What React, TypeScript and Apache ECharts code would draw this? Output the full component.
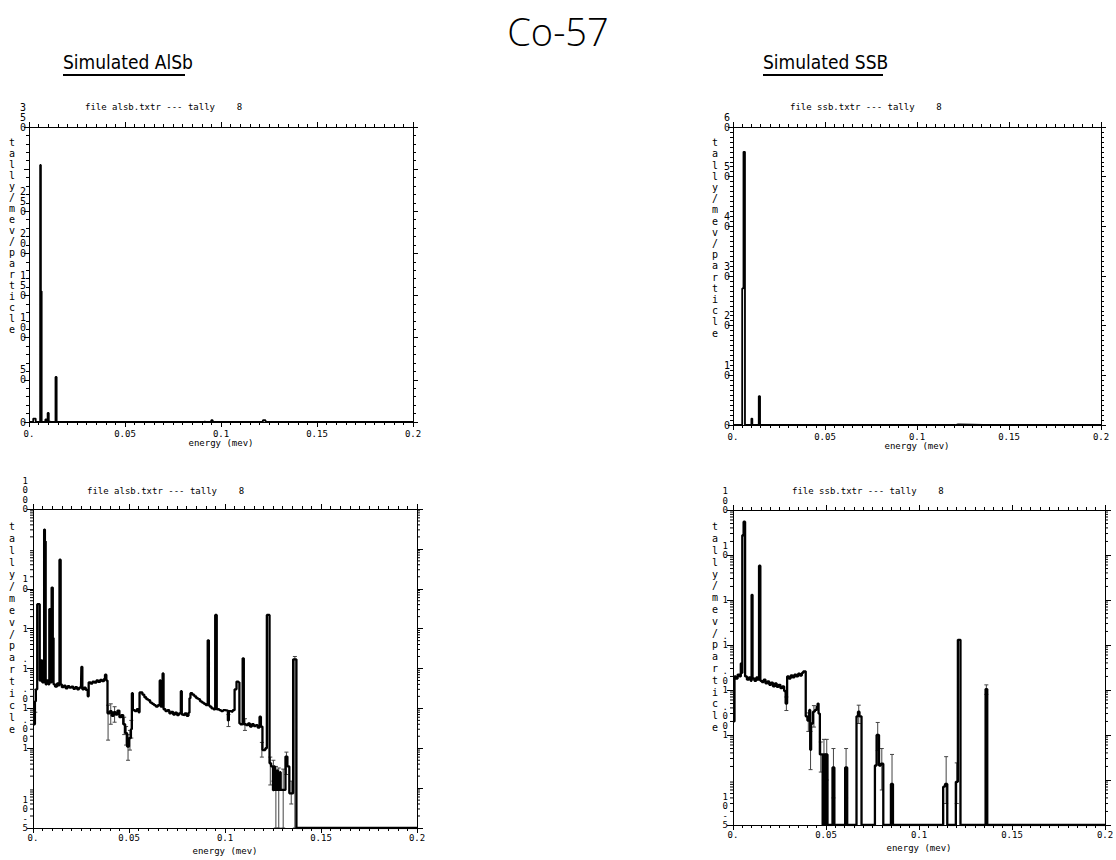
import React, { useEffect, useRef } from 'react';
import * as echarts from 'echarts';

// ---------- data: [lower bin edge (MeV), tally/MeV/particle] ----------
const alsbSpectrum: [number, number][] = [
  [0.0, 0.004], [0.001, 0.015], [0.0015, 0.03], [0.0022, 4.1], [0.0035, 0.05],
  [0.004, 0.16], [0.0048, 0.045], [0.0058, 305], [0.0062, 155], [0.0066, 0.04],
  [0.0072, 0.05], [0.008, 0.04], [0.0085, 3.1], [0.0091, 0.045], [0.0097, 10.7],
  [0.0103, 0.58], [0.0107, 0.04], [0.0115, 0.035], [0.0125, 0.042], [0.0132, 0.038],
  [0.0138, 53.5], [0.0144, 0.04], [0.015, 0.034], [0.016, 0.037], [0.017, 0.032],
  [0.018, 0.036], [0.019, 0.033], [0.02, 0.035], [0.021, 0.031], [0.022, 0.034],
  [0.023, 0.03], [0.024, 0.033], [0.025, 0.032], [0.0252, 0.11], [0.0257, 0.03],
  [0.0265, 0.033], [0.0275, 0.029], [0.0285, 0.02], [0.029, 0.045], [0.03, 0.042],
  [0.031, 0.047], [0.032, 0.044], [0.033, 0.05], [0.034, 0.046], [0.035, 0.052],
  [0.036, 0.048], [0.037, 0.055], [0.0375, 0.07], [0.0382, 0.05], [0.0388, 0.0075],
  [0.04, 0.0085], [0.041, 0.0065], [0.042, 0.008], [0.043, 0.007], [0.044, 0.0088],
  [0.045, 0.006], [0.046, 0.0068], [0.047, 0.004], [0.048, 0.0024], [0.049, 0.0011],
  [0.05, 0.0018], [0.051, 0.003], [0.0515, 0.024], [0.052, 0.009], [0.053, 0.0085],
  [0.054, 0.0095], [0.055, 0.008], [0.0555, 0.025], [0.057, 0.022], [0.058, 0.019],
  [0.059, 0.017], [0.06, 0.016], [0.061, 0.014], [0.062, 0.013], [0.063, 0.012],
  [0.064, 0.011], [0.065, 0.012], [0.066, 0.05], [0.0665, 0.011], [0.0675, 0.075],
  [0.068, 0.0095], [0.069, 0.0085], [0.07, 0.009], [0.071, 0.0075], [0.072, 0.0082],
  [0.073, 0.007], [0.074, 0.0078], [0.075, 0.0068], [0.076, 0.0075], [0.077, 0.027],
  [0.0775, 0.007], [0.078, 0.0068], [0.079, 0.0075], [0.08, 0.0065], [0.081, 0.0078],
  [0.0815, 0.018], [0.082, 0.024], [0.083, 0.022], [0.084, 0.02], [0.085, 0.018],
  [0.086, 0.017], [0.087, 0.015], [0.088, 0.014], [0.089, 0.013], [0.09, 0.012],
  [0.091, 0.51], [0.0916, 0.012], [0.092, 0.011], [0.093, 0.01], [0.094, 0.0095],
  [0.0949, 2.2], [0.0957, 0.0095], [0.097, 0.009], [0.098, 0.0085], [0.099, 0.009],
  [0.1, 0.0088], [0.1015, 0.005], [0.102, 0.0085], [0.103, 0.0082], [0.104, 0.009],
  [0.105, 0.03], [0.106, 0.047], [0.107, 0.045], [0.1075, 0.0042], [0.108, 0.004],
  [0.1092, 0.18], [0.1098, 0.004], [0.111, 0.0038], [0.112, 0.0042], [0.113, 0.0035],
  [0.114, 0.004], [0.115, 0.0036], [0.116, 0.0038], [0.117, 0.0033], [0.118, 0.0062],
  [0.1187, 0.0035], [0.1195, 0.0009], [0.121, 0.001], [0.1218, 2.2], [0.1232, 0.00042],
  [0.124, 0.00035], [0.125, 0.000089], [0.1255, 0.00035], [0.126, 0.00009], [0.127, 0.00028],
  [0.1275, 0.00009], [0.1285, 0.00025], [0.129, 0.00009], [0.1315, 0.00062], [0.1325, 0.00035],
  [0.1335, 0.000074], [0.1355, 0.17], [0.1372, 0], [0.2, 0],
];

const ssbSpectrum: [number, number][] = [
  [0.0, 0.002], [0.0008, 0.02], [0.0015, 0.018], [0.0025, 0.022], [0.0035, 0.02],
  [0.0042, 0.039], [0.0046, 0.024], [0.005, 27.5], [0.0057, 55], [0.0065, 0.02],
  [0.0075, 0.017], [0.0085, 0.019], [0.0095, 0.016], [0.01, 1.3], [0.0105, 0.018],
  [0.0115, 0.016], [0.0125, 0.019], [0.0133, 0.017], [0.014, 5.8], [0.0147, 0.016],
  [0.0155, 0.015], [0.0165, 0.017], [0.0175, 0.014], [0.0185, 0.0155], [0.0195, 0.013],
  [0.0205, 0.0145], [0.0215, 0.012], [0.0225, 0.014], [0.0235, 0.0118], [0.0245, 0.013],
  [0.0255, 0.011], [0.0265, 0.012], [0.0275, 0.0095], [0.0283, 0.005], [0.0291, 0.02],
  [0.03, 0.018], [0.031, 0.021], [0.032, 0.019], [0.033, 0.022], [0.034, 0.02],
  [0.035, 0.023], [0.036, 0.021], [0.037, 0.024], [0.0378, 0.026], [0.0391, 0.0026],
  [0.04, 0.0021], [0.041, 0.0036], [0.0415, 0.00047], [0.042, 0.0018], [0.043, 0.0033],
  [0.044, 0.0036], [0.045, 0.0043], [0.0455, 0.005], [0.046, 0.003], [0.0467, 0.00037],
  [0.0482, 0], [0.0486, 0.00037], [0.0497, 0], [0.05, 0.00037], [0.0508, 0],
  [0.0535, 0.00019], [0.0545, 0], [0.0603, 0.00019], [0.0614, 0], [0.0664, 0.0026],
  [0.0672, 0.0033], [0.068, 0.0026], [0.0691, 0], [0.0763, 0.00021], [0.0772, 0.001],
  [0.0785, 0.00021], [0.0795, 0.00023], [0.0808, 0], [0.0849, 0.000082], [0.086, 0],
  [0.113, 0.000071], [0.114, 0.000082], [0.1152, 0], [0.1198, 0.000091], [0.1209, 0.13],
  [0.1223, 0], [0.1358, 0.0105], [0.1367, 0], [0.2, 0],
];

// error bars: [energy, low, high] (0 low = reaches the axis floor)
const alsbErrors: [number, number, number][] = [
  [0.0012, 0.008, 0.03], [0.0391, 0.0016, 0.012], [0.0405, 0.004, 0.013], [0.0425, 0.0045, 0.011],
  [0.0475, 0.0022, 0.006], [0.0485, 0.0012, 0.0035], [0.0495, 0.0005, 0.0022], [0.0505, 0.0009, 0.0028],
  [0.0512, 0.0018, 0.005], [0.1018, 0.0035, 0.007], [0.1104, 0.0028, 0.0055], [0.1192, 0.0006, 0.0014],
  [0.1236, 0.00012, 0.0006], [0.1252, 0.00015, 0.0005], [0.1265, 0, 0.00035], [0.128, 0, 0.00032],
  [0.1303, 0, 0.0003], [0.132, 0.00022, 0.0008], [0.1345, 0.00004, 0.00015], [0.1364, 0, 0.2],
];
const ssbErrors: [number, number, number][] = [
  [0.0287, 0.0035, 0.007], [0.0405, 0.0012, 0.0031], [0.0417, 0.00017, 0.0012], [0.0435, 0.0015, 0.0045],
  [0.0472, 0.00015, 0.0007], [0.0489, 0.0001, 0.0008], [0.0504, 0.0001, 0.0008], [0.054, 0.00004, 0.0005],
  [0.0608, 0.00004, 0.0005], [0.0676, 0.0018, 0.0046], [0.0778, 0.00045, 0.0019], [0.08, 0.00006, 0.0005],
  [0.0855, 0.00002, 0.00037], [0.1146, 0.00003, 0.00033], [0.1203, 0.00003, 0.00024], [0.1362, 0.008, 0.013],
];

// ---------- tick labels ----------
const energyTickLabels = ['0.', '0.05', '0.1', '0.15', '0.2'];
const logDecadeLabels: Record<string, string> = {
  '3': '1000', '2': '100', '1': '10', '0': '1', '-1': '.1', '-2': '.01', '-3': '.001', '-4': '10-4', '-5': '10-5',
};
const logMinorMultipliers = [2, 3, 4, 5, 6, 7, 8, 9];

const FLOOR = 1e-5;
const MONO = '"DejaVu Sans Mono", "Liberation Mono", monospace';

function vert(s: string): string {
  const c = s.split('');
  return c.join('\n') + '\n '.repeat(c.length - 1);
}

function stepData(spec: [number, number][], log: boolean) {
  return spec.map(([e, v]) => [e, log && v <= 0 ? FLOOR : v]);
}

function minorLogValues(minExp: number, maxExp: number) {
  const out: number[][] = [];
  for (let k = minExp; k < maxExp; k++) {
    for (const m of logMinorMultipliers) out.push([0, m * Math.pow(10, k)]);
  }
  return out;
}

const grids = [
  { left: 29, top: 127, width: 384, height: 295 },
  { left: 733, top: 127, width: 368, height: 298 },
  { left: 33, top: 509, width: 384, height: 319 },
  { left: 733, top: 510, width: 372, height: 315 },
];

const black = '#000';

function xAxes(i: number, nameGap: number, labelMargin: number) {
  const base = {
    type: 'value', gridIndex: i, min: 0, max: 0.2, interval: 0.05,
    axisLine: { show: true, onZero: false, lineStyle: { color: black, width: 1 } },
    axisTick: { show: true, length: 5, lineStyle: { color: black } },
    minorTick: { show: true, splitNumber: 10, length: 3, lineStyle: { color: black } },
    splitLine: { show: false },
    minorSplitLine: { show: false },
  };
  return [
    {
      ...base, position: 'bottom',
      axisLabel: {
        color: black, fontFamily: MONO, fontSize: 9, margin: labelMargin,
        showMinLabel: true, showMaxLabel: true, hideOverlap: false,
        formatter: (v: number) => energyTickLabels[Math.round(v / 0.05)] ?? String(v),
      },
      name: 'energy (mev)', nameLocation: 'middle', nameGap,
      nameTextStyle: { color: black, fontFamily: MONO, fontSize: 9 },
    },
    { ...base, position: 'top', axisLabel: { show: false } },
  ];
}

const yLabelBase = {
  color: black, fontFamily: MONO, fontSize: 10, lineHeight: 10,
  verticalAlign: 'middle', showMinLabel: true, showMaxLabel: true, hideOverlap: false,
};

function linearYAxes(i: number, max: number, interval: number, minorSplit: number) {
  const base = {
    type: 'value', gridIndex: i, min: 0, max, interval,
    axisLine: { show: true, onZero: false, lineStyle: { color: black, width: 1 } },
    axisTick: { show: true, length: 5, lineStyle: { color: black } },
    minorTick: { show: true, splitNumber: minorSplit, length: 3, lineStyle: { color: black } },
    splitLine: { show: false },
    minorSplitLine: { show: false },
  };
  return [
    {
      ...base, position: 'left',
      axisLabel: { ...yLabelBase, margin: 3, formatter: (v: number) => vert(String(v)) },
    },
    { ...base, position: 'right', axisLabel: { show: false } },
  ];
}

function logYAxes(i: number, maxExp: number) {
  const base = {
    type: 'log', logBase: 10, gridIndex: i, min: FLOOR, max: Math.pow(10, maxExp), interval: 1,
    axisLine: { show: true, onZero: false, lineStyle: { color: black, width: 1 } },
    axisTick: { show: true, length: 6, lineStyle: { color: black } },
    minorTick: { show: false },
    splitLine: { show: false },
  };
  return [
    {
      ...base, position: 'left',
      axisLabel: {
        ...yLabelBase, fontSize: 9, lineHeight: 9.5, margin: 5,
        formatter: (v: number) => vert(logDecadeLabels[String(Math.round(Math.log10(v)))] ?? ''),
      },
    },
    { ...base, position: 'right', axisLabel: { show: false } },
  ];
}

function minorTickSeries(i: number, maxExp: number) {
  return {
    type: 'custom', xAxisIndex: 2 * i, yAxisIndex: 2 * i, silent: true, clip: false,
    data: minorLogValues(-5, maxExp),
    encode: { x: 0, y: 1 },
    renderItem: (_p: any, api: any) => {
      const v = api.value(1);
      const p = api.coord([0, v]);
      const q = api.coord([0.2, v]);
      return {
        type: 'group',
        children: [
          { type: 'line', shape: { x1: p[0] - 3, y1: p[1], x2: p[0], y2: p[1] }, style: { stroke: black, lineWidth: 1 } },
          { type: 'line', shape: { x1: q[0], y1: q[1], x2: q[0] + 3, y2: q[1] }, style: { stroke: black, lineWidth: 1 } },
        ],
      };
    },
  };
}

function errorSeries(i: number, errs: [number, number, number][]) {
  return {
    type: 'custom', xAxisIndex: 2 * i, yAxisIndex: 2 * i, silent: true, clip: true,
    data: errs.map(([e, lo, hi]) => [e, lo <= 0 ? FLOOR : lo, hi]),
    encode: { x: 0, y: [1, 2] },
    renderItem: (_p: any, api: any) => {
      const a = api.coord([api.value(0), api.value(1)]);
      const b = api.coord([api.value(0), api.value(2)]);
      const st = { stroke: '#444', lineWidth: 1 };
      return {
        type: 'group',
        children: [
          { type: 'line', shape: { x1: a[0], y1: a[1], x2: b[0], y2: b[1] }, style: st },
          { type: 'line', shape: { x1: a[0] - 2, y1: a[1], x2: a[0] + 2, y2: a[1] }, style: st },
          { type: 'line', shape: { x1: b[0] - 2, y1: b[1], x2: b[0] + 2, y2: b[1] }, style: st },
        ],
      };
    },
  };
}

function spectrumSeries(i: number, spec: [number, number][], log: boolean) {
  return {
    type: 'line', xAxisIndex: 2 * i, yAxisIndex: 2 * i, step: 'end',
    data: stepData(spec, log), showSymbol: false, symbol: 'none', silent: true,
    lineStyle: { color: black, width: log ? 2.3 : 1.8 },
  };
}

function vText(x: number, y: number, lh: number) {
  return {
    type: 'text', x, y,
    style: {
      text: 'tally/mev/particle'.split('').join('\n'), font: `10px ${MONO}`, fill: black,
      align: 'center', verticalAlign: 'top', lineHeight: lh,
    },
  };
}

function plotTitle(x: number, y: number, name: string) {
  return {
    type: 'text', x, y,
    style: { text: `file ${name}.txtr --- tally    8`, font: `9px ${MONO}`, fill: black, align: 'left', verticalAlign: 'middle' },
  };
}

const HEAD = '"DejaVu Sans Condensed", "Liberation Sans Narrow", "DejaVu Sans", sans-serif';

export default function App() {
  const ref = useRef<HTMLDivElement>(null);
  useEffect(() => {
    if (!ref.current) return;
    const chart = echarts.init(ref.current, null, { renderer: 'svg' });
    const option: any = {
      animation: false,
      backgroundColor: '#fff',
      grid: grids.map((g) => ({ ...g, containLabel: false, outerBoundsMode: 'none' })),
      xAxis: [...xAxes(0, 16, 7), ...xAxes(1, 16, 7), ...xAxes(2, 18, 5), ...xAxes(3, 18, 5)],
      yAxis: [...linearYAxes(0, 350, 50, 5), ...linearYAxes(1, 60, 10, 10), ...logYAxes(2, 3), ...logYAxes(3, 2)],
      series: [
        errorSeries(2, alsbErrors),
        errorSeries(3, ssbErrors),
        spectrumSeries(0, alsbSpectrum, false),
        spectrumSeries(1, ssbSpectrum, false),
        spectrumSeries(2, alsbSpectrum, true),
        spectrumSeries(3, ssbSpectrum, true),
        minorTickSeries(2, 3),
        minorTickSeries(3, 2),
      ],
      graphic: [
        { type: 'text', x: 558, y: 31, style: { text: 'Co-57', font: `300 38px "Open Sans", sans-serif`, fill: black, align: 'center', verticalAlign: 'middle' } },
        { type: 'text', x: 63, y: 62, style: { text: 'Simulated AlSb', font: `19px ${HEAD}`, fill: black, align: 'left', verticalAlign: 'middle' } },
        { type: 'line', shape: { x1: 63, y1: 75, x2: 185, y2: 75 }, style: { stroke: black, lineWidth: 2 } },
        { type: 'text', x: 763, y: 62, style: { text: 'Simulated SSB', font: `19px ${HEAD}`, fill: black, align: 'left', verticalAlign: 'middle' } },
        { type: 'line', shape: { x1: 763, y1: 75, x2: 883, y2: 75 }, style: { stroke: black, lineWidth: 2 } },
        plotTitle(85, 107, 'alsb'),
        plotTitle(87, 491, 'alsb'),
        plotTitle(790, 107, 'ssb'),
        plotTitle(792, 491, 'ssb'),
        vText(12, 137, 11),
        vText(12, 521, 11.9),
        vText(715, 137, 11.2),
        vText(715, 521, 11.8),
      ],
    };
    chart.setOption(option);
    return () => chart.dispose();
  }, []);
  return <div ref={ref} style={{ position: 'fixed', left: 0, top: 0, width: 1116, height: 860, background: '#fff' }} />;
}
